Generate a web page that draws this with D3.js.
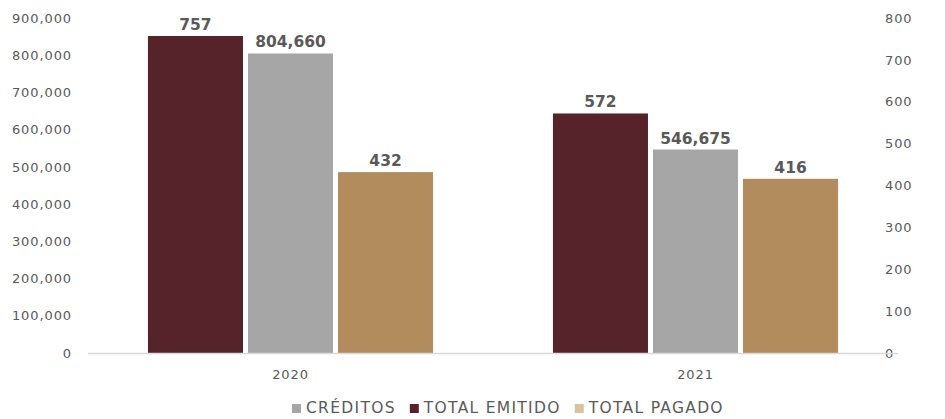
<!DOCTYPE html>
<html>
<head>
<meta charset="utf-8">
<script src="https://cdn.jsdelivr.net/npm/d3@7"></script>
<style>
  html, body { margin: 0; padding: 0; background: #fff; }
  svg { display: block; font-family: "DejaVu Sans", sans-serif; }
</style>
</head>
<body>
<svg id="chart" width="945" height="419"></svg>
<script>
// Years on the category axis
const years = ["2020", "2021"];
// Credits (left axis)
const creditos = [804660, 546675];
// Amounts issued and paid (right axis)
const totalEmitido = [757, 572];
const totalPagado = [432, 416];
// Axis ticks
const leftTicks = [0, 100000, 200000, 300000, 400000, 500000, 600000, 700000, 800000, 900000];
const rightTicks = [0, 100, 200, 300, 400, 500, 600, 700, 800];

const colors = {
  emitido: "#56232B",
  creditos: "#A6A6A6",
  pagado: "#B28C5C",
  pagadoLegend: "#D8C49C"
};

const svg = d3.select("#chart");
const W = 945, H = 419;
const margin = { top: 18, right: 47, bottom: 66, left: 88 };
const plotW = W - margin.left - margin.right;
const plotH = H - margin.top - margin.bottom;

const g = svg.append("g").attr("transform", `translate(${margin.left},${margin.top})`);

const x = d3.scaleBand().domain(years).range([0, plotW]);
const seriesOrder = ["emitido", "creditos", "pagado"];
const inner = d3.scaleBand().domain(seriesOrder)
  .range([x.bandwidth() * 0.148, x.bandwidth() * 0.852])
  .paddingInner(0).paddingOuter(0);

const yL = d3.scaleLinear().domain([0, 900000]).range([plotH, 0]);
const yR = d3.scaleLinear().domain([0, 800]).range([plotH, 0]);

const tickColor = "#595959";

// Left axis
const leftAxis = g.append("g").call(
  d3.axisLeft(yL).tickValues(leftTicks).tickSize(0).tickPadding(16)
    .tickFormat(d => d3.format(",")(d))
);
leftAxis.select(".domain").remove();
leftAxis.selectAll("text")
  .attr("fill", tickColor).style("font-size", "13px").style("letter-spacing", "0.9px")
  .style("font-family", "DejaVu Sans, sans-serif");

// Right axis
const rightAxis = g.append("g").attr("transform", `translate(${plotW},0)`).call(
  d3.axisRight(yR).tickValues(rightTicks).tickSize(0).tickPadding(-13)
);
rightAxis.select(".domain").remove();
rightAxis.selectAll("text")
  .attr("fill", tickColor).style("font-size", "13px").style("letter-spacing", "0.9px")
  .style("font-family", "DejaVu Sans, sans-serif");

// Bars
const rows = years.map((yr, i) => ({
  year: yr,
  emitido: totalEmitido[i],
  creditos: creditos[i],
  pagado: totalPagado[i]
}));

const scaleFor = k => (k === "creditos" ? yL : yR);
const barData = [];
rows.forEach(r => seriesOrder.forEach(k => barData.push({ year: r.year, key: k, value: r[k] })));

// the credits bar sits between the other two with a white gap on each side
const inset = k => (k === "creditos" ? 5 : 0);

g.selectAll("rect.bar").data(barData).enter().append("rect")
  .attr("class", "bar")
  .attr("x", d => x(d.year) + inner(d.key) + inset(d.key))
  .attr("width", d => inner.bandwidth() - 2 * inset(d.key))
  .attr("y", d => scaleFor(d.key)(d.value))
  .attr("height", d => plotH - scaleFor(d.key)(d.value))
  .attr("fill", d => colors[d.key]);

// Baseline
g.append("line")
  .attr("x1", 0).attr("x2", plotW)
  .attr("y1", plotH + 0.5).attr("y2", plotH + 0.5)
  .attr("stroke", "#D9D9D9").attr("stroke-width", 1.5);

// Value labels
g.selectAll("text.val").data(barData).enter().append("text")
  .attr("class", "val")
  .attr("x", d => x(d.year) + inner(d.key) + inner.bandwidth() / 2)
  .attr("y", d => scaleFor(d.key)(d.value) - 6)
  .attr("text-anchor", "middle")
  .attr("fill", "#595959")
  .style("font-size", "15.5px").style("font-weight", "bold")
  .text(d => d3.format(",")(d.value));

// Category labels
g.selectAll("text.cat").data(years).enter().append("text")
  .attr("class", "cat")
  .attr("x", d => x(d) + x.bandwidth() / 2)
  .attr("y", plotH + 26)
  .attr("text-anchor", "middle")
  .attr("fill", tickColor)
  .style("font-size", "13px").style("letter-spacing", "0.9px")
  .text(d => d);

// Legend
const legendItems = [
  { label: "CRÉDITOS", color: colors.creditos },
  { label: "TOTAL EMITIDO", color: colors.emitido },
  { label: "TOTAL PAGADO", color: colors.pagadoLegend }
];
const legend = svg.append("g").attr("class", "legend");
let lx = 0;
legendItems.forEach(item => {
  const it = legend.append("g").attr("transform", `translate(${lx},0)`);
  it.append("rect").attr("x", 0).attr("y", -9).attr("width", 9).attr("height", 9).attr("fill", item.color);
  const t = it.append("text").attr("x", 14).attr("y", 0)
    .attr("fill", tickColor)
    .style("font-size", "15.5px").style("letter-spacing", "1.3px")
    .text(item.label);
  lx += 14 + t.node().getComputedTextLength() + 14;
});
legend.attr("transform", `translate(292,413)`);
</script>
</body>
</html>
